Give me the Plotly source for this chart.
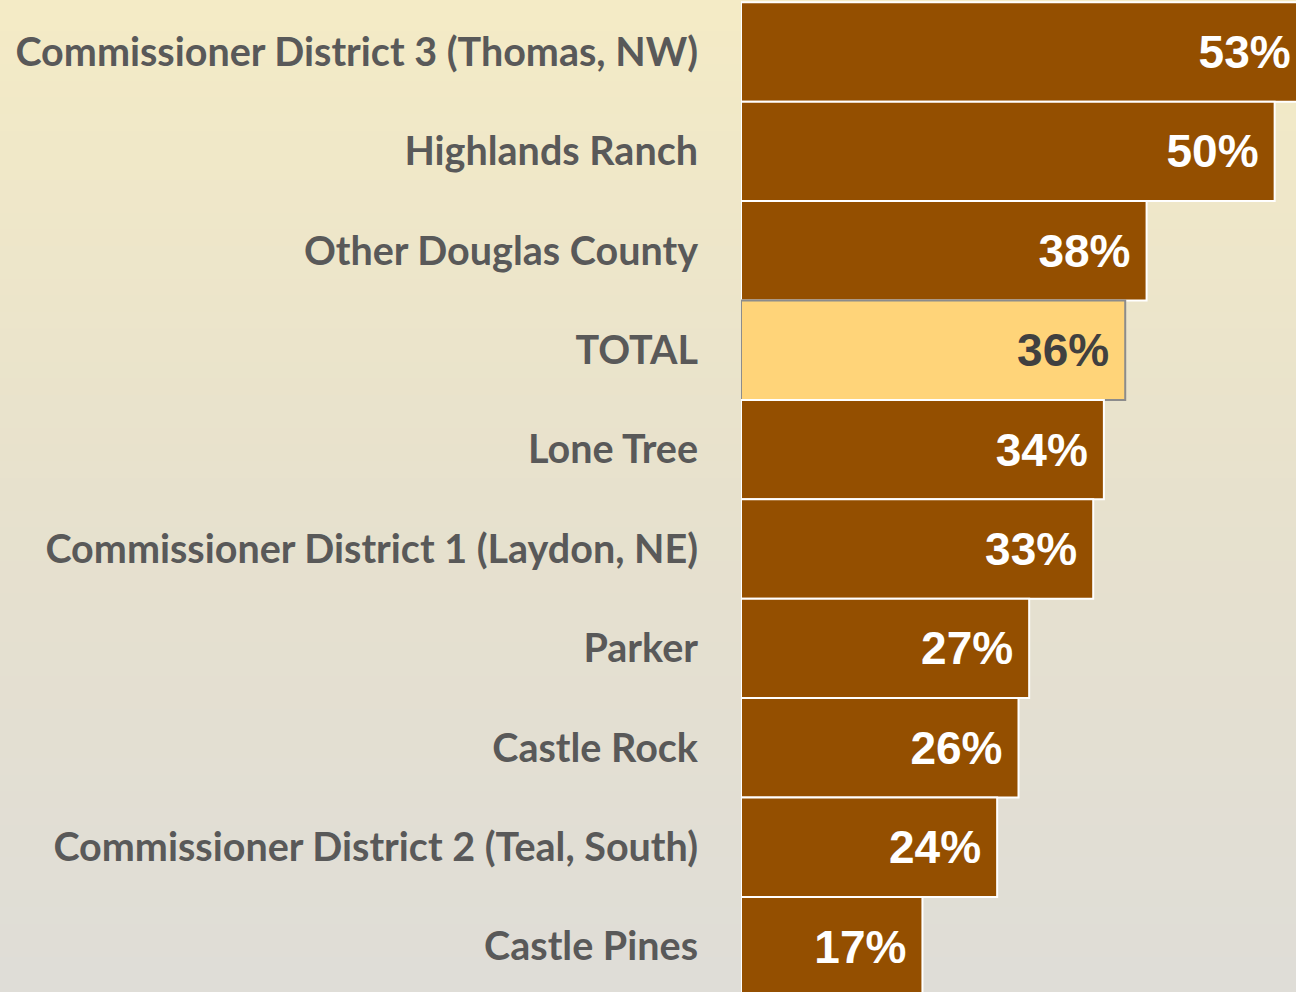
import plotly.graph_objects as go

categories = [
    "Commissioner District 3 (Thomas, NW)",
    "Highlands Ranch",
    "Other Douglas County",
    "TOTAL",
    "Lone Tree",
    "Commissioner District 1 (Laydon, NE)",
    "Parker",
    "Castle Rock",
    "Commissioner District 2 (Teal, South)",
    "Castle Pines",
]
values = [53, 50, 38, 36, 34, 33, 27, 26, 24, 17]
labels = [f"{v}%" for v in values]

BAR = "#944F00"
TOTAL_FILL = "#FFD479"
fills = [TOTAL_FILL if c == "TOTAL" else BAR for c in categories]
lines = ["#8C8C8C" if c == "TOTAL" else "#FFFFFF" for c in categories]
txtcol = ["#404040" if c == "TOTAL" else "#FFFFFF" for c in categories]

fig = go.Figure()
fig.add_trace(go.Bar(
    y=categories, x=values, orientation="h",
    marker=dict(color=fills, line=dict(color=lines, width=2)),
    text=[t + "\u2009\u200a" for t in labels],
    textposition="inside", insidetextanchor="end",
    textfont=dict(family="Liberation Sans, Arial", size=46, color=txtcol, weight="bold"),
    textangle=0, cliponaxis=True, hoverinfo="skip",
))

# vertical background gradient
top = (244, 235, 198)
mid = (231, 225, 205)
bot = (223, 221, 215)
n = 60
shapes = []
for i in range(n):
    t = i / (n - 1)
    if t < 0.5:
        a, b, u = top, mid, t / 0.5
    else:
        a, b, u = mid, bot, (t - 0.5) / 0.5
    c = tuple(round(a[k] + (b[k] - a[k]) * u) for k in range(3))
    shapes.append(dict(type="rect", xref="paper", yref="paper", layer="below",
                       x0=-2, x1=2, y0=1 - (i + 1) / n - 0.002, y1=1 - i / n + 0.002,
                       line=dict(width=0), fillcolor="rgb(%d,%d,%d)" % c))

fig.update_layout(
    width=1296, height=992,
    margin=dict(l=741, r=0, t=0, b=0),
    paper_bgcolor="rgb(244,235,198)", plot_bgcolor="rgba(0,0,0,0)",
    bargap=0.0, showlegend=False, shapes=shapes,
    xaxis=dict(range=[0, 52.0], visible=False, fixedrange=True),
    yaxis=dict(categoryorder="array", categoryarray=categories,
               range=[9.457, -0.523], showgrid=False, zeroline=False,
               showline=False, ticks="", ticklabelstandoff=42,
               tickfont=dict(family="Lato", size=39.5, color="#595959", weight="bold"),
               fixedrange=True),
)
fig.write_html("out.html", config={"displayModeBar": False, "staticPlot": True},
               post_script="document.body.style.margin='0';document.body.style.padding='0';")
